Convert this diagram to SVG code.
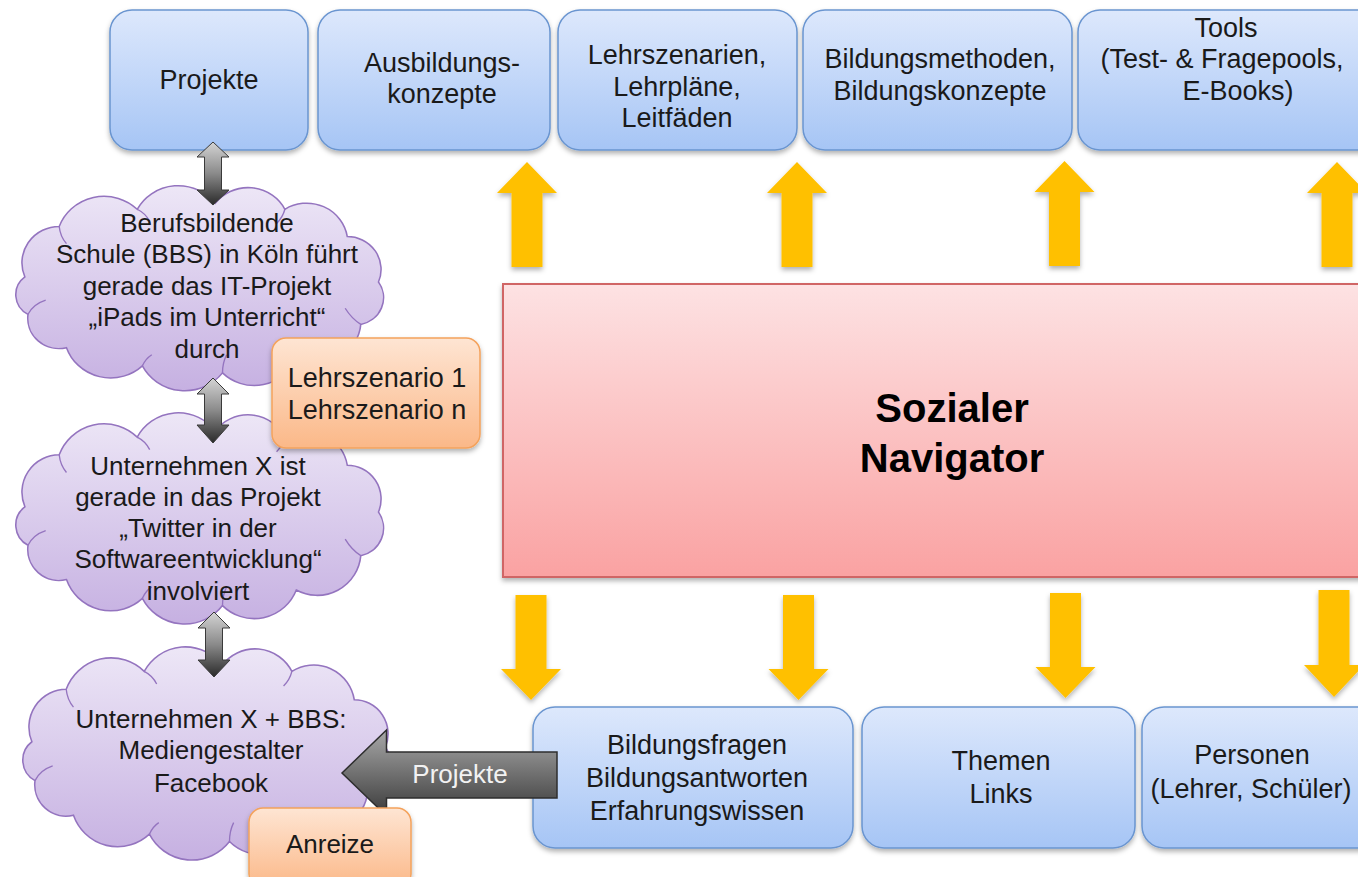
<svg xmlns="http://www.w3.org/2000/svg" xmlns:xlink="http://www.w3.org/1999/xlink" width="1358" height="877" viewBox="0 0 1358 877">
  <defs>
    <linearGradient id="blueFill" x1="0" y1="0" x2="0" y2="1">
      <stop offset="0" stop-color="#dde8fc"/>
      <stop offset="1" stop-color="#a6c5f5"/>
    </linearGradient>
    <linearGradient id="redFill" x1="0" y1="0" x2="0" y2="1">
      <stop offset="0" stop-color="#fde2e3"/>
      <stop offset="1" stop-color="#faa2a2"/>
    </linearGradient>
    <linearGradient id="orangeFill" x1="0" y1="0" x2="0" y2="1">
      <stop offset="0" stop-color="#fee5d3"/>
      <stop offset="1" stop-color="#fbb888"/>
    </linearGradient>
    <linearGradient id="cloudFill" gradientUnits="userSpaceOnUse" x1="0" y1="0" x2="0" y2="212">
      <stop offset="0" stop-color="#eee8f7"/>
      <stop offset="1" stop-color="#c5afe1"/>
    </linearGradient>
    <linearGradient id="grayV" x1="0" y1="0" x2="0" y2="1">
      <stop offset="0" stop-color="#d4d4d4"/>
      <stop offset="0.5" stop-color="#8a8a8a"/>
      <stop offset="1" stop-color="#2a2a2a"/>
    </linearGradient>
    <linearGradient id="grayH" x1="0" y1="0" x2="0" y2="1">
      <stop offset="0" stop-color="#a8a8a8"/>
      <stop offset="1" stop-color="#3a3a3a"/>
    </linearGradient>
    <filter id="shadow" x="-10%" y="-10%" width="120%" height="130%">
      <feDropShadow dx="0" dy="3" stdDeviation="2.5" flood-color="#000" flood-opacity="0.3"/>
    </filter>
    <!-- cloud outline in local coordinates, roughly 375 x 212 -->
    <g id="cloud">
      <path fill="url(#cloudFill)" stroke="#9474bf" stroke-width="1.5"
            d="M 22 95 A 36 36 0 0 1 55 45 A 46 46 0 0 1 130 28 A 45 45 0 0 1 205 22
               A 40 40 0 0 1 272 28 A 39.5 39.5 0 0 1 332 55 A 32.5 32.5 0 0 1 362 100
               A 27 27 0 0 1 345 142 A 42 42 0 0 1 283 175 A 43.5 43.5 0 0 1 212 190
               A 46 46 0 0 1 135 183 A 45 45 0 0 1 62 165 A 30 30 0 0 1 25 132
               A 22 22 0 0 1 22 95 Z"/>
      <g fill="none" stroke="#9474bf" stroke-width="1.3">
        <path d="M 25 132 Q 30 122 42 118"/>
        <path d="M 55 45 Q 56 55 62 62"/>
        <path d="M 130 28 Q 138 32 142 40"/>
        <path d="M 272 28 Q 270 36 264 42"/>
        <path d="M 345 142 Q 336 136 330 126"/>
        <path d="M 212 190 Q 212 180 216 172"/>
        <path d="M 135 183 Q 138 176 144 172"/>
      </g>
    </g>
    <style>
      .t { font-family: "Liberation Sans", Arial, sans-serif; font-size: 27px; fill: #1a1a1a; text-anchor: middle; }
      .c { font-size: 26px; }
      .box { fill: url(#blueFill); stroke: #6a95d0; stroke-width: 1.5; filter: url(#shadow); }
      .org { fill: url(#orangeFill); stroke: #f4a25c; stroke-width: 1.5; filter: url(#shadow); }
      .ya { fill: #ffc000; filter: url(#shadow); }
      .ga { fill: url(#grayV); stroke: #3a3a3a; stroke-width: 1; }
    </style>
  </defs>

  <rect width="1358" height="877" fill="#ffffff"/>

  <!-- top row of resource boxes -->
  <g id="top-projekte">
    <rect class="box" x="110" y="10" width="198" height="140" rx="22"/>
    <text class="t" x="209" y="89">Projekte</text>
  </g>
  <g id="top-ausbildung">
    <rect class="box" x="318" y="10" width="232" height="140" rx="22"/>
    <text class="t" x="442" y="72">Ausbildungs-</text>
    <text class="t" x="442" y="103">konzepte</text>
  </g>
  <g id="top-lehrszenarien">
    <rect class="box" x="558" y="10" width="239" height="140" rx="22"/>
    <text class="t" x="677" y="64">Lehrszenarien,</text>
    <text class="t" x="677" y="96">Lehrpläne,</text>
    <text class="t" x="677" y="127">Leitfäden</text>
  </g>
  <g id="top-bildungsmethoden">
    <rect class="box" x="803" y="10" width="269" height="140" rx="22"/>
    <text class="t" x="940" y="68">Bildungsmethoden,</text>
    <text class="t" x="940" y="100">Bildungskonzepte</text>
  </g>
  <g id="top-tools">
    <rect class="box" x="1078" y="10" width="310" height="140" rx="22"/>
    <text class="t" x="1226" y="37">Tools</text>
    <text class="t" x="1222" y="68">(Test- &amp; Fragepools,</text>
    <text class="t" x="1238" y="100">E-Books)</text>
  </g>

  <!-- central node -->
  <g id="sozialer-navigator">
    <rect x="503" y="284" width="880" height="293" fill="url(#redFill)" stroke="#d06565" stroke-width="2" filter="url(#shadow)"/>
    <text class="t" x="952" y="422" style="font-size:40px;font-weight:bold;fill:#000">Sozialer</text>
    <text class="t" x="952" y="472" style="font-size:40px;font-weight:bold;fill:#000">Navigator</text>
  </g>

  <!-- bottom row of content boxes -->
  <g id="bottom-bildungsfragen">
    <rect class="box" x="533" y="707" width="320" height="141" rx="22"/>
    <text class="t" x="697" y="754">Bildungsfragen</text>
    <text class="t" x="697" y="787">Bildungsantworten</text>
    <text class="t" x="697" y="820">Erfahrungswissen</text>
  </g>
  <g id="bottom-themen">
    <rect class="box" x="862" y="707" width="273" height="141" rx="22"/>
    <text class="t" x="1001" y="770">Themen</text>
    <text class="t" x="1001" y="803">Links</text>
  </g>
  <g id="bottom-personen">
    <rect class="box" x="1142" y="707" width="240" height="141" rx="22"/>
    <text class="t" x="1252" y="764">Personen</text>
    <text class="t" x="1251" y="798">(Lehrer, Schüler)</text>
  </g>

  <!-- project clouds -->
  <g id="cloud-bbs">
    <use xlink:href="#cloud" transform="translate(2,181) scale(1.04,1.01)"/>
    <text class="t c" x="207" y="232">Berufsbildende</text>
    <text class="t c" x="207" y="263">Schule (BBS) in Köln führt</text>
    <text class="t c" x="207" y="295">gerade das IT-Projekt</text>
    <text class="t c" x="207" y="326">„iPads im Unterricht“</text>
    <text class="t c" x="207" y="358">durch</text>
  </g>
  <g id="cloud-unternehmen">
    <use xlink:href="#cloud" transform="translate(2,408) scale(1.04,1.04)"/>
    <text class="t c" x="198" y="475">Unternehmen  X ist</text>
    <text class="t c" x="198" y="506">gerade in das Projekt</text>
    <text class="t c" x="198" y="537">„Twitter in der</text>
    <text class="t c" x="198" y="568">Softwareentwicklung“</text>
    <text class="t c" x="198" y="600">involviert</text>
  </g>
  <g id="cloud-facebook">
    <use xlink:href="#cloud" transform="translate(9,642) scale(1.04,1.05)"/>
    <text class="t c" x="211" y="728">Unternehmen  X + BBS:</text>
    <text class="t c" x="211" y="759">Mediengestalter</text>
    <text class="t c" x="211" y="792">Facebook</text>
  </g>

  <!-- connectors -->
  <g id="connectors">
    <!-- navigator feeds the top row -->
    <polygon class="ya" points="527,162 557,193 542.5,193 542.5,267 511.5,267 511.5,193 497,193"/>
    <polygon class="ya" points="797,162 827,193 812.5,193 812.5,267 781.5,267 781.5,193 767,193"/>
    <polygon class="ya" points="1064.5,161 1094.5,192 1080,192 1080,266 1049,266 1049,192 1034.5,192"/>
    <polygon class="ya" points="1337,162 1367,193 1352.5,193 1352.5,267 1321.5,267 1321.5,193 1307,193"/>
    <!-- bottom row feeds the navigator -->
    <polygon class="ya" points="515.5,595 546.5,595 546.5,669 561,669 531,700 501,669 515.5,669"/>
    <polygon class="ya" points="783,595 814,595 814,669 828.5,669 798.5,700 768.5,669 783,669"/>
    <polygon class="ya" points="1050,593 1081,593 1081,667 1095.5,667 1065.5,698 1035.5,667 1050,667"/>
    <polygon class="ya" points="1318.5,590 1349.5,590 1349.5,665 1364,665 1334,697 1304,665 1318.5,665"/>

    <!-- links between projects and clouds -->
    <polygon class="ga" points="213,142 229,157 221.5,157 221.5,190 229,190 213,205 197,190 204.5,190 204.5,157 197,157"/>
    <polygon class="ga" points="213,378 229,394 221.5,394 221.5,425 229,425 213,443 197,425 204.5,425 204.5,394 197,394"/>
    <polygon class="ga" points="214,612 230,628 222.5,628 222.5,660 230,660 214,677 198,660 205.5,660 205.5,628 198,628"/>

    <!-- projects handed to the cloud -->
    <g id="projekte-arrow">
      <polygon points="342,773 386.5,730 386.5,752 557,752 557,798 386.5,798 386.5,816" fill="url(#grayH)" stroke="#2e2e2e" stroke-width="1.5"/>
      <text class="t c" x="460" y="783" style="fill:#f2f2f2">Projekte</text>
    </g>
  </g>

  <!-- annotation labels -->
  <g id="lehrszenario">
    <rect class="org" x="272" y="338" width="208" height="110" rx="14"/>
    <text class="t" x="377" y="387">Lehrszenario  1</text>
    <text class="t" x="377" y="419">Lehrszenario  n</text>
  </g>
  <g id="anreize">
    <rect class="org" x="249" y="808" width="162" height="80" rx="14"/>
    <text class="t c" x="330" y="853">Anreize</text>
  </g>
</svg>
